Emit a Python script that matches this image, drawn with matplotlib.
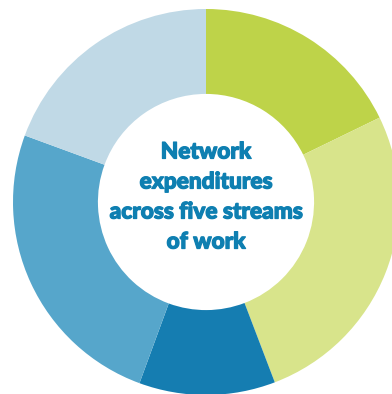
import matplotlib
matplotlib.use("Agg")
import matplotlib.pyplot as plt
from matplotlib import patheffects

streams = ["Stream 1", "Stream 2", "Stream 3", "Stream 4", "Stream 5"]
shares = [17.8, 26.4, 11.4, 25.0, 19.4]
colors = ["#BED349", "#D8E48B", "#157DB1", "#56A6CB", "#C0D9E6"]
center_text = "Network\nexpenditures\nacross five streams\nof work"

W, H = 392, 394
fig = plt.figure(figsize=(W / 100, H / 100), dpi=100)
ax = fig.add_axes([0, 0, 1, 1])

cx, cy, r = 206, H - 202, 193
ax.pie(shares, colors=colors, startangle=90, counterclock=False,
       center=(cx, cy), radius=r, frame=True,
       wedgeprops=dict(width=r * 0.44, edgecolor="none", linewidth=0))
ax.set_xlim(0, W)
ax.set_ylim(0, H)
ax.set_aspect("equal")
ax.axis("off")

tcol = "#0E7FB1"
ax.text(cx, cy + 5, center_text, ha="center", va="center", color=tcol,
        fontsize=16.3, fontweight="black", family=["Lato", "Roboto"], linespacing=1.53,
        path_effects=[patheffects.withStroke(linewidth=0.9, foreground=tcol)])

fig.savefig("out.png", dpi=100, facecolor="white")
